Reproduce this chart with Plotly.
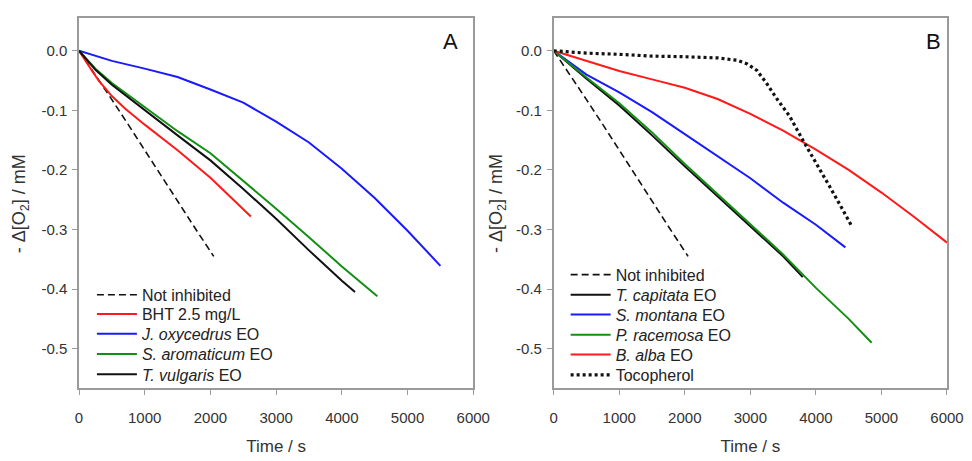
import plotly.graph_objects as go

# ---------------- Panel A data ----------------
a_noinh_t = [0, 250, 500, 750, 1000, 1250, 1500, 1750, 2050]
a_noinh_v = [0, -0.040, -0.082, -0.124, -0.167, -0.209, -0.252, -0.295, -0.345]

a_bht_t = [0, 100, 200, 300, 400, 500, 700, 1000, 1500, 2000, 2615]
a_bht_v = [0, -0.018, -0.034, -0.050, -0.064, -0.076, -0.097, -0.124, -0.167, -0.213, -0.278]

a_joxy_t = [0, 250, 500, 1000, 1500, 2000, 2500, 3000, 3500, 4000, 4500, 5000, 5500]
a_joxy_v = [0, -0.008, -0.017, -0.030, -0.044, -0.065, -0.087, -0.119, -0.154, -0.198, -0.247, -0.302, -0.361]

a_sarom_t = [0, 250, 500, 1000, 1500, 2000, 2500, 3000, 3500, 4000, 4540]
a_sarom_v = [0, -0.030, -0.054, -0.095, -0.135, -0.172, -0.218, -0.265, -0.313, -0.362, -0.412]

a_tvulg_t = [0, 250, 500, 1000, 1500, 2000, 2500, 3000, 3500, 4000, 4200]
a_tvulg_v = [0, -0.032, -0.057, -0.100, -0.142, -0.184, -0.232, -0.282, -0.335, -0.386, -0.405]

# ---------------- Panel B data ----------------
b_noinh_t = [0, 250, 500, 750, 1000, 1250, 1500, 1750, 2050]
b_noinh_v = [0, -0.040, -0.082, -0.124, -0.167, -0.209, -0.252, -0.295, -0.345]

b_tcap_t = [0, 500, 1000, 1500, 2000, 2500, 3000, 3500, 3800]
b_tcap_v = [0, -0.047, -0.092, -0.142, -0.194, -0.244, -0.294, -0.345, -0.380]

b_smont_t = [0, 250, 500, 1000, 1500, 2000, 2500, 3000, 3500, 4000, 4450]
b_smont_v = [0, -0.020, -0.040, -0.070, -0.103, -0.140, -0.177, -0.214, -0.255, -0.292, -0.330]

b_prac_t = [0, 500, 1000, 1500, 2000, 2500, 3000, 3500, 4000, 4500, 4850]
b_prac_v = [0, -0.045, -0.088, -0.137, -0.190, -0.240, -0.291, -0.342, -0.398, -0.450, -0.490]

b_balba_t = [0, 500, 1000, 1500, 2000, 2500, 3000, 3500, 4000, 4500, 5000, 5500, 6000]
b_balba_v = [0, -0.017, -0.034, -0.048, -0.062, -0.081, -0.106, -0.134, -0.166, -0.200, -0.238, -0.279, -0.322]

b_toco_t = [0, 500, 1000, 1500, 2000, 2500, 2800, 2950, 3100, 3250, 3400, 3600, 3800, 4000, 4200, 4400, 4550]
b_toco_v = [0, -0.004, -0.006, -0.009, -0.010, -0.012, -0.016, -0.022, -0.033, -0.055, -0.080, -0.110, -0.150, -0.187, -0.226, -0.265, -0.295]

# ---------------- ticks / labels ----------------
x_tickvals = [0, 1000, 2000, 3000, 4000, 5000, 6000]
x_ticktext = ["0", "1000", "2000", "3000", "4000", "5000", "6000"]
y_tickvals = [0.0, -0.1, -0.2, -0.3, -0.4, -0.5]
y_ticktext = ["0.0", "-0.1", "-0.2", "-0.3", "-0.4", "-0.5"]
y_title = "-\u00a0Δ[O<sub>2</sub>]\u00a0/\u00a0mM"
x_title = "Time / s"

RED = "#ff1a1a"
BLUE = "#1a1aff"
GREEN = "#138f13"
BLACK = "#111111"
DASH = "7px,4px"
FONT = "Liberation Sans, Arial, sans-serif"
FRAME = "#9a9a9a"

# page geometry (the page body adds an 8px offset)
OFF = 8
W, H = 972 - OFF, 461 - OFF
PL, PT, PR, PB = 79, 16, 953, 400          # plot-area edges in reference pixels
ML, MT = PL - OFF, PT - OFF
MR, MB = W - (PR - OFF), H - (PB - OFF)
PW, PH = PR - PL, PB - PT
LEG_DY = 8.4                                # legend box centre vs. text centre


def px_to_paper_x(px):
    return (px - PL) / PW


def px_to_paper_y(py):
    return (PB - py) / PH


fig = go.Figure()
legend_layouts = {}
legend_counter = [0]


def add(t, v, name, color, xa, ya, leg_x, leg_y, dash="solid", width=2):
    legend_counter[0] += 1
    key = "legend" if legend_counter[0] == 1 else f"legend{legend_counter[0]}"
    fig.add_trace(go.Scatter(x=t, y=v, mode="lines", name=name,
                             line=dict(color=color, width=width, dash=dash),
                             xaxis=xa, yaxis=ya, legend=key))
    legend_layouts[key] = dict(x=px_to_paper_x(leg_x), y=px_to_paper_y(leg_y + LEG_DY),
                               xanchor="left", yanchor="middle",
                               font=dict(size=16, color="#222222", family=FONT),
                               bgcolor="rgba(0,0,0,0)", borderwidth=0, itemwidth=40)


LAX, LBX = 92, 569
add(a_noinh_t, a_noinh_v, "Not inhibited", BLACK, "x", "y", LAX, 295, DASH, 1.6)
add(a_bht_t, a_bht_v, "BHT 2.5 mg/L", RED, "x", "y", LAX, 315)
add(a_joxy_t, a_joxy_v, "<i>J. oxycedrus</i> EO", BLUE, "x", "y", LAX, 335.5)
add(a_sarom_t, a_sarom_v, "<i>S. aromaticum</i> EO", GREEN, "x", "y", LAX, 356.5)
add(a_tvulg_t, a_tvulg_v, "<i>T. vulgaris</i> EO", BLACK, "x", "y", LAX, 377.5)

add(b_noinh_t, b_noinh_v, "Not inhibited", BLACK, "x2", "y2", LBX, 274, DASH, 1.6)
add(b_tcap_t, b_tcap_v, "<i>T. capitata</i> EO", BLACK, "x2", "y2", LBX, 295)
add(b_smont_t, b_smont_v, "<i>S. montana</i> EO", BLUE, "x2", "y2", LBX, 315.5)
add(b_prac_t, b_prac_v, "<i>P. racemosa</i> EO", GREEN, "x2", "y2", LBX, 336.5)
add(b_balba_t, b_balba_v, "<i>B. alba</i> EO", RED, "x2", "y2", LBX, 357)
add(b_toco_t, b_toco_v, "Tocopherol", BLACK, "x2", "y2", LBX, 378, "3px,3px", 3.2)

yrange = [-0.566, 0.055]

common_x = dict(range=[0, 6000], tickvals=x_tickvals, ticktext=x_ticktext,
                showline=True, linecolor=FRAME, linewidth=1.5, mirror=True,
                ticks="outside", ticklen=5, tickcolor=FRAME, tickwidth=1.2,
                showgrid=False, zeroline=False, ticklabelstandoff=10,
                tickfont=dict(size=15, color="#333333", family=FONT),
                title=dict(text=x_title, font=dict(size=17, color="#333333", family=FONT), standoff=15))
common_y = dict(range=yrange, tickvals=y_tickvals, ticktext=y_ticktext,
                showline=True, linecolor=FRAME, linewidth=1.5, mirror=True,
                ticks="outside", ticklen=5, tickcolor=FRAME, tickwidth=1.2,
                showgrid=False, zeroline=False, ticklabelstandoff=2,
                tickfont=dict(size=15, color="#333333", family=FONT))

title_font = dict(size=18, color="#333333", family=FONT)
label_font = dict(size=22, color="#111111", family=FONT)

fig.update_layout(
    width=W, height=H,
    margin=dict(l=ML, r=MR, t=MT, b=MB),
    paper_bgcolor="white", plot_bgcolor="white",
    font=dict(family=FONT, color="#333333"),
    xaxis=dict(domain=[0, (476 - PL) / PW], anchor="y", **common_x),
    yaxis=dict(domain=[0, 1], anchor="x", **common_y),
    xaxis2=dict(domain=[(557 - PL) / PW, 1], anchor="y2", **common_x),
    yaxis2=dict(domain=[0, 1], anchor="x2", **common_y),
    showlegend=True,
    annotations=[
        dict(text="A", xref="paper", yref="paper", x=px_to_paper_x(453), y=px_to_paper_y(40),
             xanchor="center", yanchor="middle", showarrow=False, font=label_font),
        dict(text="B", xref="paper", yref="paper", x=px_to_paper_x(939), y=px_to_paper_y(40),
             xanchor="center", yanchor="middle", showarrow=False, font=label_font),
        dict(text=y_title, xref="paper", yref="paper", x=px_to_paper_x(21), y=px_to_paper_y(209),
             xanchor="center", yanchor="middle", textangle=-90, showarrow=False, font=title_font),
        dict(text=y_title, xref="paper", yref="paper", x=px_to_paper_x(501), y=px_to_paper_y(209),
             xanchor="center", yanchor="middle", textangle=-90, showarrow=False, font=title_font),
    ],
)
fig.update_layout(**legend_layouts)

fig.write_html("out.html")
